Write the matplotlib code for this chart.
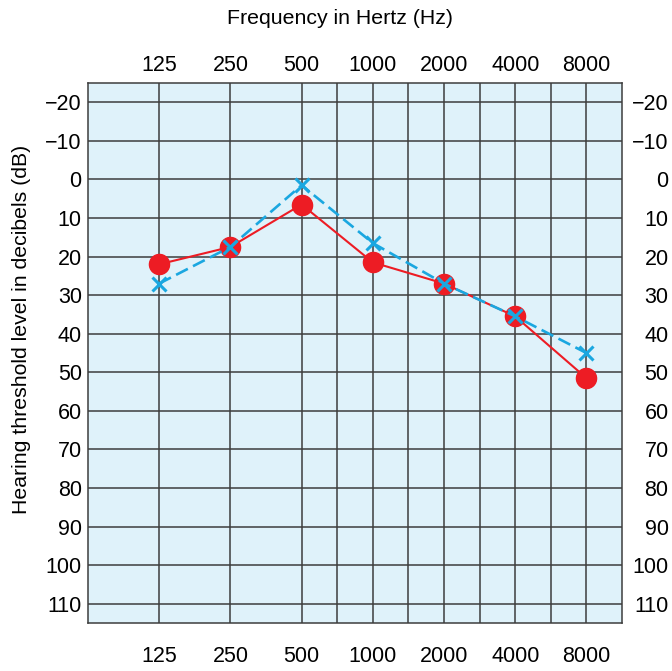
import numpy as np
import matplotlib
matplotlib.use('Agg')
import matplotlib.pyplot as plt

# audiogram data (dB hearing level)
freqs = [125, 250, 500, 1000, 2000, 4000, 8000]
tick_labels = ['125', '250', '500', '1000', '2000', '4000', '8000']
right_ear = [22, 17.5, 6.5, 21.5, 27, 35.5, 51.5]
left_ear = [27, 17.5, 1.5, 16.5, 27, 35.5, 45]
db_ticks = [-20, -10, 0, 10, 20, 30, 40, 50, 60, 70, 80, 90, 100, 110]
db_labels = [str(d).replace('-', '\u2212') for d in db_ticks]

plt.rcParams['font.family'] = ['Liberation Sans', 'DejaVu Sans']
fs = 15.5

fig = plt.figure(figsize=(6.72, 6.71), dpi=100)
ax = fig.add_axes([88/672, 1-623/671, (622-88)/672, (623-83)/671])
ax.set_facecolor('#dff2fa')

ax.set_xscale('log', base=2)
ax.set_xlim(62.5, 8000*np.sqrt(2))
ax.set_ylim(115, -25)

grid_col = '#3d3d3d'
# half-octave grid lines between 500 and 8000
half = [np.sqrt(a*b) for a, b in zip(freqs[2:-1], freqs[3:])]
for f in freqs + half:
    ax.axvline(f, color=grid_col, lw=1.1, zorder=1)
for d in db_ticks:
    ax.axhline(d, color=grid_col, lw=1.1, zorder=1)
for s in ax.spines.values():
    s.set_color(grid_col)
    s.set_linewidth(1.1)

ax.plot(freqs, right_ear, color='#ed1c24', lw=1.5, marker='o',
        markersize=14.5, zorder=3, clip_on=False)
ax.plot(freqs, left_ear, color='#1aa7e0', lw=1.9, ls=(0, (5, 2.2)),
        marker='x', markersize=10, mew=2.2, zorder=4, clip_on=False)

ax.set_xticks(freqs)
ax.set_xticklabels(tick_labels)
ax.xaxis.set_minor_locator(matplotlib.ticker.NullLocator())
ax.tick_params(axis='x', which='both', top=True, labeltop=True,
               bottom=True, labelbottom=True, length=0, labelsize=fs, pad=5)

# bottom labels sit further from the frame than top ones
for t in ax.xaxis.get_major_ticks():
    t.label1.set_y(-0.03)

ax.set_yticks(db_ticks)
ax.set_yticklabels(db_labels)
ax.tick_params(axis='y', left=True, labelleft=True, right=False,
               length=0, labelsize=fs, pad=4.5)

# right-hand labels are right-aligned near the figure edge
ax2 = ax.twinx()
ax2.set_ylim(ax.get_ylim())
ax2.set_yticks(db_ticks)
ax2.set_yticklabels(db_labels)
ax2.tick_params(axis='y', length=0, labelsize=fs, pad=33.5)
for lab in ax2.get_yticklabels():
    lab.set_horizontalalignment('right')
for s in ax2.spines.values():
    s.set_visible(False)

fig.text(340/672, 1-18/671, 'Frequency in Hertz (Hz)', ha='center',
         va='center', fontsize=15.3)
fig.text(22/672, 1-329/671, 'Hearing threshold level in decibels (dB)',
         ha='center', va='center', rotation=90, fontsize=15.3)

fig.savefig('out.png', dpi=100)
